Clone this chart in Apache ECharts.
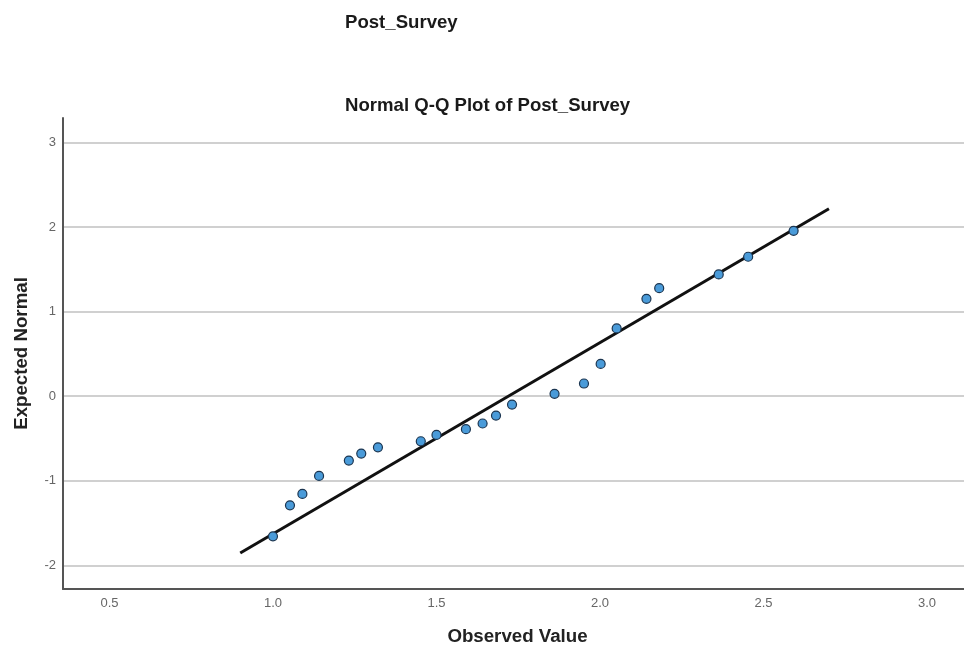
<!DOCTYPE html>
<html>
<head>
<meta charset="utf-8">
<script src="https://cdn.jsdelivr.net/npm/echarts@6/dist/echarts.min.js"></script>
<style>
html,body{margin:0;padding:0;background:#fff;}
#chart{width:964px;height:645px;}
</style>
</head>
<body>
<div id="chart"></div>
<script>
// Observed values (x) and expected normal values (y)
const observed = [1.000, 1.052, 1.090, 1.141, 1.232, 1.270, 1.321, 1.452, 1.500, 1.590, 1.641, 1.682, 1.731, 1.861, 1.951, 2.002, 2.051, 2.142, 2.181, 2.363, 2.453, 2.592];
const expected = [-1.657, -1.290, -1.156, -0.943, -0.761, -0.678, -0.604, -0.533, -0.458, -0.390, -0.323, -0.229, -0.099, 0.028, 0.150, 0.382, 0.801, 1.152, 1.278, 1.440, 1.649, 1.956];
// Reference line endpoints
const lineX = [0.9, 2.7];
const lineY = [-1.855, 2.217];

const titleMain = 'Post_Survey';
const titleSub = 'Normal Q-Q Plot of Post_Survey';
const xName = 'Observed Value';
const yName = 'Expected Normal';

const FONT = '"Liberation Sans", Arial, sans-serif';

const chart = echarts.init(document.getElementById('chart'), null, {renderer: 'canvas'});
chart.setOption({
  backgroundColor: '#ffffff',
  animation: false,
  title: [
    {text: titleMain, left: 340, top: 8, padding: 5, textStyle: {fontFamily: FONT, fontSize: 18.6, fontWeight: 'bold', color: '#1a1a1a'}},
    {text: titleSub, left: 340, top: 91, padding: 5, textStyle: {fontFamily: FONT, fontSize: 18.6, fontWeight: 'bold', color: '#1a1a1a'}}
  ],
  grid: {left: 63, right: 0, top: 118, bottom: 56, containLabel: false, outerBoundsMode: 'none'},
  xAxis: {
    type: 'value',
    min: 0.358, max: 3.113, splitNumber: 5,
    name: xName, nameLocation: 'middle', nameGap: 38,
    nameTextStyle: {fontFamily: FONT, fontSize: 18.7, fontWeight: 'bold', color: '#222', padding: [0, 0, 0, 8]},
    axisLine: {show: true, onZero: false, lineStyle: {color: '#555', width: 2}},
    axisTick: {show: false},
    axisLabel: {fontFamily: FONT, fontSize: 13, color: '#666', margin: 8, showMinLabel: false, showMaxLabel: false,
      formatter: v => v.toFixed(1)},
    splitLine: {show: false}
  },
  yAxis: {
    type: 'value',
    min: -2.28, max: 3.29, splitNumber: 5,
    name: yName, nameLocation: 'middle', nameGap: 32,
    nameTextStyle: {fontFamily: FONT, fontSize: 18.7, fontWeight: 'bold', color: '#222'},
    axisLine: {show: true, onZero: false, lineStyle: {color: '#555', width: 2}},
    axisTick: {show: false},
    axisLabel: {fontFamily: FONT, fontSize: 13, color: '#666', margin: 7, showMinLabel: false, showMaxLabel: false},
    splitLine: {show: true, showMinLine: false, showMaxLine: false, lineStyle: {color: '#d0d0d0', width: 2}}
  },
  series: [
    {
      type: 'line',
      data: lineX.map((x, i) => [x, lineY[i]]),
      symbol: 'none',
      lineStyle: {color: '#111', width: 3},
      z: 2
    },
    {
      type: 'scatter',
      data: observed.map((x, i) => [x, expected[i]]),
      symbol: 'circle',
      symbolSize: 9,
      itemStyle: {color: '#4a9bd9', borderColor: '#1b3550', borderWidth: 1.2, opacity: 1},
      z: 3
    }
  ]
});
</script>
</body>
</html>
